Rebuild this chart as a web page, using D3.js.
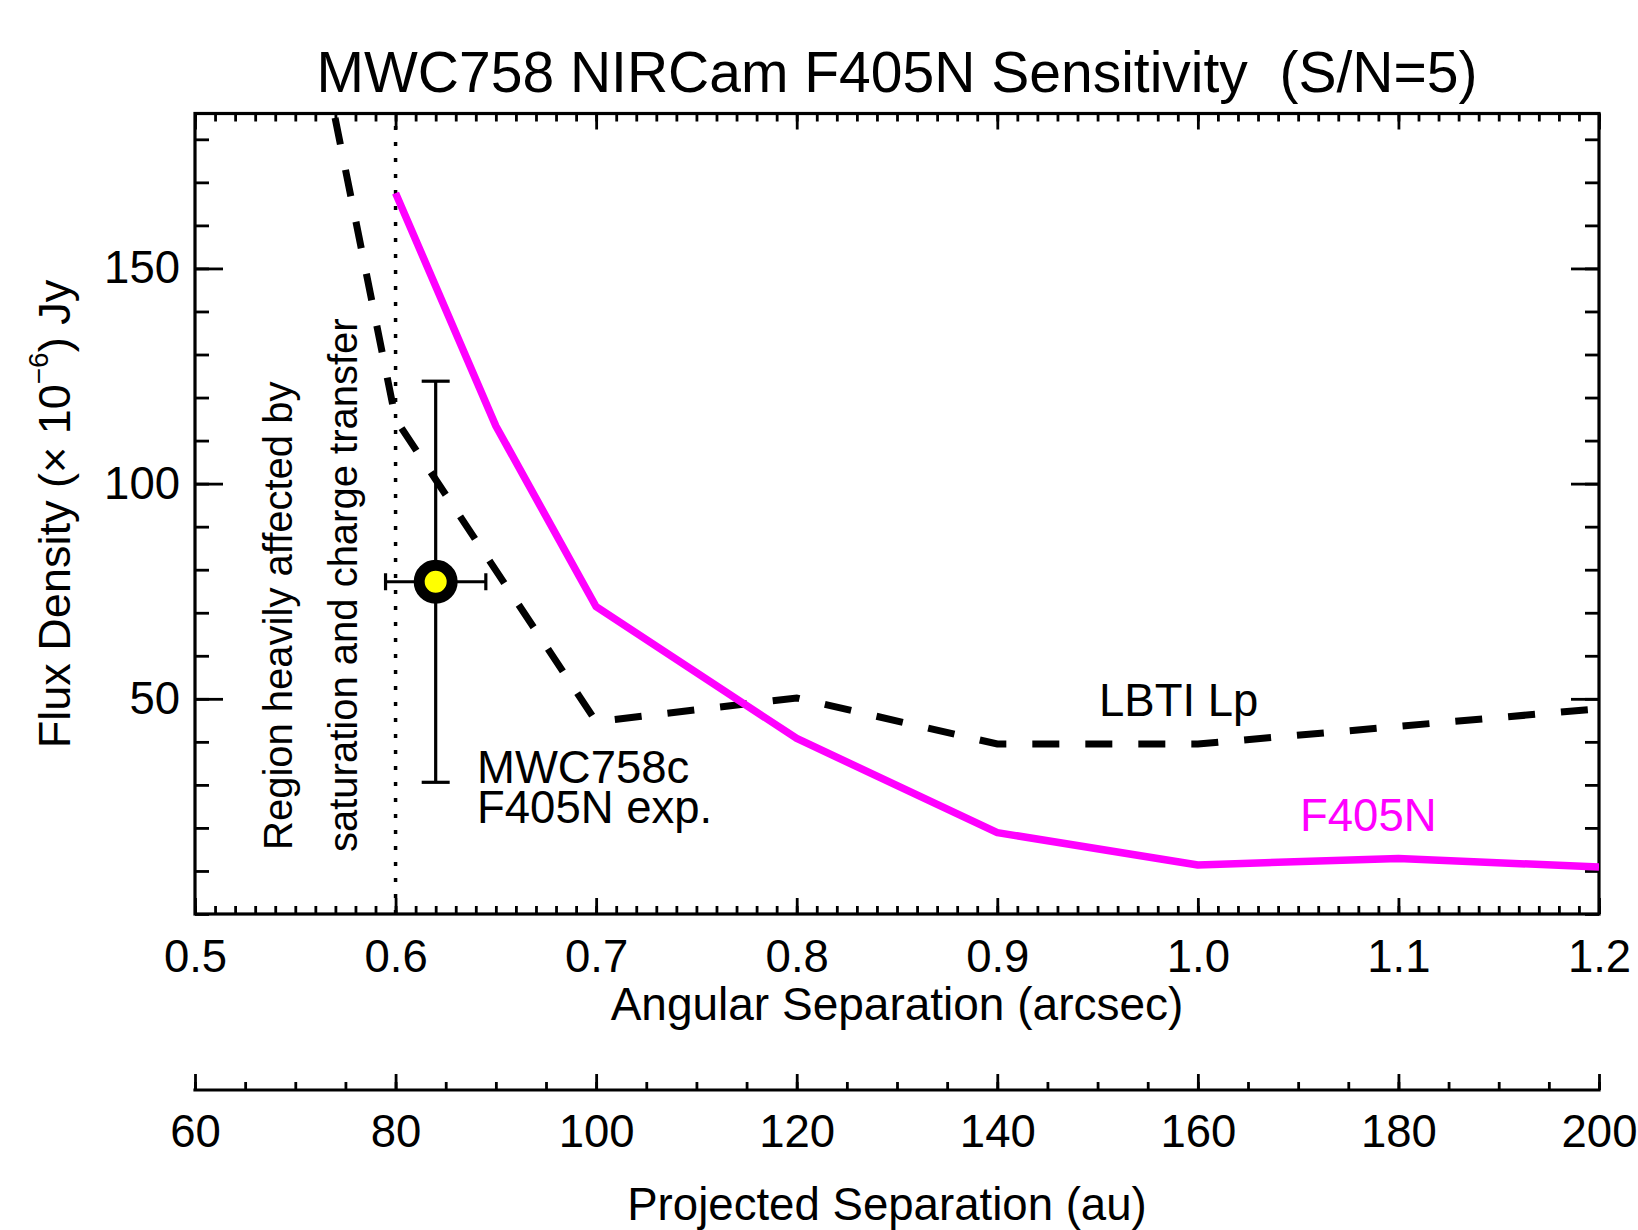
<!DOCTYPE html>
<html><head><meta charset="utf-8">
<script src="https://cdn.jsdelivr.net/npm/d3@7"></script>
<style>
body{margin:0;background:#fff}
svg{display:block}
text{font-family:"Liberation Sans",Arial,Helvetica,sans-serif;fill:#000;white-space:pre}
</style>
</head><body><svg id="c" width="1638" height="1230"></svg>
<script>
// ---- data ----
const xMajorTicks = [0.5, 0.6, 0.7, 0.8, 0.9, 1.0, 1.1, 1.2];
const xTickLabels = ["0.5", "0.6", "0.7", "0.8", "0.9", "1.0", "1.1", "1.2"];
const yMajorTicks = [50, 100, 150];
const yTickLabels = ["50", "100", "150"];
const auMajorTicks = [60, 80, 100, 120, 140, 160, 180, 200];
const auTickLabels = ["60", "80", "100", "120", "140", "160", "180", "200"];

const sepF405N  = [0.6, 0.65, 0.7, 0.8, 0.9, 1.0, 1.1, 1.2];
const fluxF405N = [167.5, 113.4, 71.4, 40.8, 18.9, 11.4, 12.9, 10.9];

const sepLBTI  = [0.55, 0.6, 0.7, 0.8, 0.9, 1.0, 1.1, 1.2];
const fluxLBTI = [231, 115, 44.7, 50.2, 39.5, 39.5, 43.6, 47.7];

const sourceSep = [0.62];
const sourceSepErr = [0.025];
const sourceFlux = [77.2];
const sourceFluxErr = [46.6];

const saturationLimit = [0.6];

// ---- layout ----
const svg = d3.select("#c");
const x = d3.scaleLinear().domain([0.5, 1.2]).range([195, 1599]);
const y = d3.scaleLinear().domain([0, 186]).range([914, 113.5]);
const au = d3.scaleLinear().domain([60, 200]).range([195, 1599]);

const [x0, x1] = x.range();
const [yb, yt] = y.range();

svg.append("defs").append("clipPath").attr("id", "clip")
  .append("rect").attr("x", x0).attr("y", yt).attr("width", x1 - x0).attr("height", yb - yt);

const xMinor = d3.range(50, 121).map(d => d / 100);
const yMinor = d3.range(0, 190, 10).filter(d => d <= 186);
const auMinor = d3.range(60, 201, 5);

function styleAxis(g, fs) {
  g.select(".domain").remove();
  g.selectAll(".tick line").attr("stroke", "#000").attr("stroke-width", 2.8);
  g.selectAll(".tick text").attr("font-size", fs).attr("fill", "#000")
    .style("font-family", '"Liberation Sans",Arial,sans-serif');
}

// bottom x axis
svg.append("g").attr("transform", `translate(0,${yb})`)
  .call(d3.axisBottom(x).tickValues(xMinor).tickSize(-8).tickFormat(""))
  .call(g => styleAxis(g, 45));
svg.append("g").attr("transform", `translate(0,${yb})`)
  .call(d3.axisBottom(x).tickValues(xMajorTicks).tickSize(-16).tickPadding(26)
    .tickFormat((d, i) => xTickLabels[i]))
  .call(g => styleAxis(g, 45.5));
// top x axis
svg.append("g").attr("transform", `translate(0,${yt})`)
  .call(d3.axisTop(x).tickValues(xMinor).tickSize(-8).tickFormat(""))
  .call(g => styleAxis(g, 45));
svg.append("g").attr("transform", `translate(0,${yt})`)
  .call(d3.axisTop(x).tickValues(xMajorTicks).tickSize(-16).tickFormat(""))
  .call(g => styleAxis(g, 45));
// left y axis
svg.append("g").attr("transform", `translate(${x0},0)`)
  .call(d3.axisLeft(y).tickValues(yMinor).tickSize(-14).tickFormat(""))
  .call(g => styleAxis(g, 45));
svg.append("g").attr("transform", `translate(${x0},0)`)
  .call(d3.axisLeft(y).tickValues(yMajorTicks).tickSize(-28).tickPadding(15)
    .tickFormat((d, i) => yTickLabels[i]))
  .call(g => styleAxis(g, 45.5));
// right y axis
svg.append("g").attr("transform", `translate(${x1},0)`)
  .call(d3.axisRight(y).tickValues(yMinor).tickSize(-14).tickFormat(""))
  .call(g => styleAxis(g, 45));
svg.append("g").attr("transform", `translate(${x1},0)`)
  .call(d3.axisRight(y).tickValues(yMajorTicks).tickSize(-28).tickFormat(""))
  .call(g => styleAxis(g, 45));

// frame
svg.append("rect").attr("x", x0).attr("y", yt).attr("width", x1 - x0).attr("height", yb - yt)
  .attr("fill", "none").attr("stroke", "#000").attr("stroke-width", 3.2);

// au axis
const auY = 1090;
svg.append("g").attr("transform", `translate(0,${auY})`)
  .call(d3.axisBottom(au).tickValues(auMinor).tickSize(-8).tickFormat(""))
  .call(g => styleAxis(g, 45));
svg.append("g").attr("transform", `translate(0,${auY})`)
  .call(d3.axisBottom(au).tickValues(auMajorTicks).tickSize(-16).tickPadding(25)
    .tickFormat((d, i) => auTickLabels[i]))
  .call(g => styleAxis(g, 45.5));
svg.append("line").attr("x1", au.range()[0]).attr("x2", au.range()[1])
  .attr("y1", auY).attr("y2", auY).attr("stroke", "#000").attr("stroke-width", 3.2)
  .attr("stroke-linecap", "square");

// plot content
const plot = svg.append("g").attr("clip-path", "url(#clip)");

// saturation limit (dotted)
plot.selectAll("line.sat").data(saturationLimit).enter().append("line")
  .attr("x1", d => x(d)).attr("x2", d => x(d)).attr("y1", yb).attr("y2", yt)
  .attr("stroke", "#000").attr("stroke-width", 3.5).attr("stroke-dasharray", "4,12");

const line = d3.line().x(d => x(d[0])).y(d => y(d[1]));

// LBTI Lp dashed
plot.append("path").datum(d3.zip(sepLBTI, fluxLBTI))
  .attr("d", line).attr("fill", "none").attr("stroke", "#000")
  .attr("stroke-width", 7).attr("stroke-dasharray", "27,26").attr("stroke-dashoffset", 10);

// F405N magenta
plot.append("path").datum(d3.zip(sepF405N, fluxF405N))
  .attr("d", line).attr("fill", "none").attr("stroke", "#ff00ff")
  .attr("stroke-width", 7.5).attr("stroke-linejoin", "round");

// source with error bars
const src = d3.range(sourceSep.length).map(i => ({
  s: sourceSep[i], se: sourceSepErr[i], f: sourceFlux[i], fe: sourceFluxErr[i]
}));
const eb = svg.append("g").attr("stroke", "#000").attr("stroke-width", 3.2);
src.forEach(d => {
  eb.append("line").attr("x1", x(d.s)).attr("x2", x(d.s)).attr("y1", y(d.f - d.fe)).attr("y2", y(d.f + d.fe));
  [d.f - d.fe, d.f + d.fe].forEach(v =>
    eb.append("line").attr("x1", x(d.s) - 14).attr("x2", x(d.s) + 14).attr("y1", y(v)).attr("y2", y(v)));
  eb.append("line").attr("x1", x(d.s - d.se)).attr("x2", x(d.s + d.se)).attr("y1", y(d.f)).attr("y2", y(d.f));
  [d.s - d.se, d.s + d.se].forEach(v =>
    eb.append("line").attr("x1", x(v)).attr("x2", x(v)).attr("y1", y(d.f) - 8.5).attr("y2", y(d.f) + 8.5));
});
svg.selectAll("circle.src").data(src).enter().append("circle")
  .attr("cx", d => x(d.s)).attr("cy", d => y(d.f)).attr("r", 16.5)
  .attr("fill", "#ffff00").attr("stroke", "#000").attr("stroke-width", 11);

// annotations
svg.append("text").attr("x", 477).attr("y", 783).attr("font-size", 45.5).text("MWC758c");
svg.append("text").attr("x", 477).attr("y", 823).attr("font-size", 45.5).text("F405N exp.");
svg.append("text").attr("x", 1099).attr("y", 716).attr("font-size", 45.5).text("LBTI Lp");
svg.append("text").attr("x", 1300).attr("y", 831).attr("font-size", 45.5)
  .style("fill", "#ff00ff").text("F405N");

svg.append("text").attr("transform", "translate(292,850) rotate(-90)")
  .attr("font-size", 40).text("Region heavily affected by");
svg.append("text").attr("transform", "translate(357,852) rotate(-90)")
  .attr("font-size", 40).text("saturation and charge transfer");

// titles
svg.append("text").attr("x", (x0 + x1) / 2).attr("y", 92).attr("text-anchor", "middle")
  .attr("font-size", 57).text("MWC758 NIRCam F405N Sensitivity  (S/N=5)");
svg.append("text").attr("x", (x0 + x1) / 2).attr("y", 1020).attr("text-anchor", "middle")
  .attr("font-size", 46).text("Angular Separation (arcsec)");
svg.append("text").attr("x", (x0 + x1) / 2 - 10).attr("y", 1220).attr("text-anchor", "middle")
  .attr("font-size", 45.6).text("Projected Separation (au)");

const yl = svg.append("text").attr("transform", "translate(70,514) rotate(-90)")
  .attr("text-anchor", "middle").attr("font-size", 45);
yl.append("tspan").text("Flux Density (\u00d7 10");
yl.append("tspan").attr("font-size", 28).attr("dy", -22).text("\u22126");
yl.append("tspan").attr("dy", 22).text(") Jy");
</script>
</body></html>
